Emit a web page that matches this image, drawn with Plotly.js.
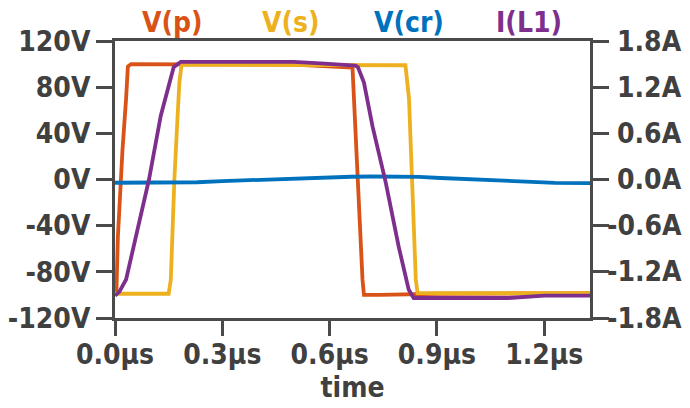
<!DOCTYPE html>
<html>
<head>
<meta charset="utf-8">
<script src="https://cdn.plot.ly/plotly-3.0.1.min.js"></script>
<style>html,body{margin:0;padding:0;background:#fff;}#chart{width:690px;height:408px;}</style>
</head>
<body>
<div id="chart"></div>
<script>
// time in microseconds
const seriesNames = ["V(p)", "V(s)", "V(cr)", "I(L1)"];
const seriesColors = ["#D95319", "#EDB120", "#0072BD", "#7E2F8E"];

const tVp = [0, 0.004, 0.008, 0.013, 0.021, 0.031, 0.036, 0.045, 0.3, 0.5, 0.664, 0.668, 0.673, 0.68, 0.682, 0.692, 0.696, 0.74, 0.9, 1.1, 1.328];
const vVp = [-100, -97, -50, -15, 26, 70, 98, 100, 99.5, 99.5, 97, 70, 26, -17, -35, -87, -100, -100, -99, -99, -98.5];

const tVs = [0, 0.15, 0.156, 0.161, 0.166, 0.175, 0.18, 0.186, 0.4, 0.6, 0.812, 0.822, 0.827, 0.832, 0.836, 0.841, 0.846, 0.9, 1.1, 1.328];
const vVs = [-99, -99, -87, -43, 0, 55, 84, 99.5, 99.5, 99.5, 99, 70, 26, -17, -43, -87, -98.5, -98.5, -98.5, -98.5];

const tVcr = [0, 0.17, 0.23, 0.3, 0.4, 0.5, 0.6, 0.66, 0.72, 0.78, 0.85, 0.91, 1.02, 1.13, 1.23, 1.328];
const vVcr = [-2.8, -2.8, -2.4, -1.4, -0.2, 0.9, 1.9, 2.4, 2.6, 2.6, 2.3, 1.3, -0.4, -2.0, -2.9, -3.2];

const tIL1 = [0, 0.003, 0.012, 0.031, 0.063, 0.095, 0.128, 0.151, 0.164, 0.184, 0.3, 0.5, 0.575, 0.656, 0.672, 0.679, 0.696, 0.72, 0.757, 0.793, 0.821, 0.835, 0.9, 1.1, 1.2, 1.328];
const iIL1 = [-1.51, -1.50, -1.46, -1.30, -0.65, 0.0, 0.83, 1.26, 1.46, 1.53, 1.53, 1.53, 1.51, 1.49, 1.48, 1.46, 1.26, 0.69, -0.04, -0.87, -1.43, -1.54, -1.54, -1.54, -1.51, -1.51];

const xTickVals = [0, 0.3, 0.6, 0.9, 1.2];
const xTickText = ["0.0μs", "0.3μs", "0.6μs", "0.9μs", "1.2μs"];
const yTickVals = [-120, -80, -40, 0, 40, 80, 120];
const yTickText = ["-120V", "-80V", "-40V", "0V", "40V", "80V", "120V"];
const y2TickVals = [-1.8, -1.2, -0.6, 0, 0.6, 1.2, 1.8];
const y2TickText = ["-1.8A", "-1.2A", "-0.6A", "0.0A", "0.6A", "1.2A", "1.8A"];
const xTitle = "time";

const FONT = "DejaVu Sans Condensed, DejaVu Sans, sans-serif";
const FS = 28;
const AX = "#4a4a4a";
const TXT = "#404040";

const xs = [tVp, tVs, tVcr, tIL1];
const ys = [vVp, vVs, vVcr, iIL1];
const traces = seriesNames.map((n, i) => ({
  x: xs[i], y: ys[i], name: n, type: "scatter", mode: "lines",
  yaxis: i === 3 ? "y2" : "y",
  line: {color: seriesColors[i], width: 3.8},
  showlegend: false, hoverinfo: "skip"
}));

const legX = [0.122, 0.3705, 0.619, 0.8716];
const annotations = seriesNames.map((n, i) => ({
  xref: "paper", yref: "paper", x: legX[i], y: 1.066,
  xanchor: "center", yanchor: "middle", showarrow: false,
  text: n, font: {family: FONT, size: FS, weight: "bold", color: seriesColors[i]}
}));
// right axis labels, right-aligned like the reference
y2TickVals.forEach((v, i) => annotations.push({
  xref: "paper", yref: "y2", x: 1.198, y: v,
  xanchor: "right", yanchor: "middle", showarrow: false,
  text: y2TickText[i], font: {family: FONT, size: FS, weight: "bold", color: TXT}
}));

const tickFont = {family: FONT, size: FS, weight: "bold", color: TXT};

const layout = {
  width: 690, height: 408,
  margin: {l: 115, r: 100, t: 41, b: 90, pad: 0},
  paper_bgcolor: "#ffffff", plot_bgcolor: "#ffffff",
  showlegend: false,
  xaxis: {
    range: [0, 1.328], tickvals: xTickVals, ticktext: xTickText,
    showgrid: false, zeroline: false,
    showline: true, linecolor: AX, linewidth: 3, mirror: true,
    ticks: "outside", ticklen: 15, tickwidth: 3, tickcolor: AX,
    tickfont: tickFont, ticklabelstandoff: -6,
    title: {text: xTitle, font: {family: FONT, size: FS, weight: "bold", color: TXT}, standoff: 6}
  },
  yaxis: {
    range: [-120, 120], tickvals: yTickVals, ticktext: yTickText,
    showgrid: false, zeroline: false,
    showline: true, linecolor: AX, linewidth: 3,
    ticks: "outside", ticklen: 16, tickwidth: 3, tickcolor: AX,
    tickfont: tickFont, ticklabelstandoff: 0
  },
  yaxis2: {
    range: [-1.8, 1.8], tickvals: y2TickVals, ticktext: y2TickText,
    overlaying: "y", side: "right", showticklabels: false,
    showgrid: false, zeroline: false,
    showline: true, linecolor: AX, linewidth: 3,
    ticks: "outside", ticklen: 16, tickwidth: 3, tickcolor: AX
  },
  annotations: annotations
};

Plotly.newPlot("chart", traces, layout, {staticPlot: true, displayModeBar: false});
</script>
</body>
</html>
